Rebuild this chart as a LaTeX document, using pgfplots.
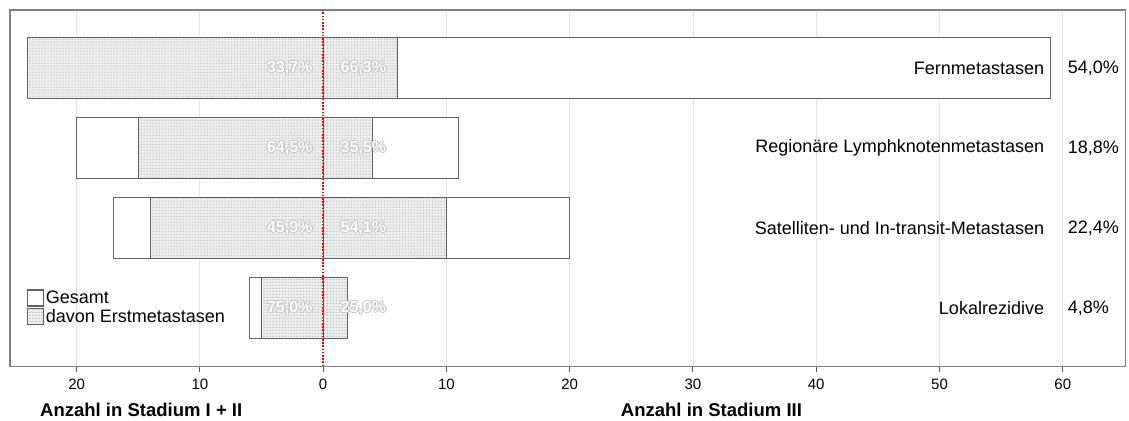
\documentclass[border=0pt]{standalone}
\usepackage{pgfplots}
\pgfplotsset{compat=1.18}
\usetikzlibrary{patterns}
\usepackage{fontspec}
\setmainfont{Liberation Sans}

\tikzset{
  hl/.style={text=black!22, inner sep=0pt, font=\bfseries\fontsize{16}{18}\selectfont},
  hw/.style={text=white, inner sep=0pt, font=\bfseries\fontsize{16}{18}\selectfont},
}
\newcommand\halo[4]{%
  \node[hl,anchor=#3,xshift=1.3pt] at (axis cs:#1,#2) {#4};
  \node[hl,anchor=#3,xshift=-1.3pt] at (axis cs:#1,#2) {#4};
  \node[hl,anchor=#3,yshift=1.3pt] at (axis cs:#1,#2) {#4};
  \node[hl,anchor=#3,yshift=-1.3pt] at (axis cs:#1,#2) {#4};
  \node[hw,anchor=#3] at (axis cs:#1,#2) {#4};
}

\begin{document}
\begin{tikzpicture}
\begin{axis}[
  scale only axis, width=1115pt, height=356pt,
  xmin=-25.4, xmax=65.1, ymin=-0.725, ymax=3.725,
  xbar, bar width=0.7625, bar shift=0pt,
  ytick=\empty,
  xtick={-20,-10,0,10,20,30,40,50,60},
  xticklabels={20,10,0,10,20,30,40,50,60},
  xtick pos=bottom, tick align=outside, major tick length=6pt,
  xmajorgrids, grid style={black!10, line width=0.8pt},
  axis line style={black!50, line width=1.2pt},
  tick style={black!65, line width=1pt},
  ticklabel style={font=\fontsize{15}{18}\selectfont, yshift=-3pt},
  /pgf/number format/assume math mode=true,
  clip=false,
  legend style={at={(0.0152,0.216)}, anchor=north west, draw=none, fill=none,
    inner sep=0pt, row sep=1pt, font=\fontsize{18}{20}\selectfont,
    nodes={inner sep=1.5pt}},
  legend cell align=left,
  legend image code/.code={\draw[#1] (0pt,-8pt) rectangle (16pt,8pt);},
  tot/.style={draw=black!62, line width=1.1pt, fill=white},
  sh/.style={draw=black!62, line width=1.1pt, fill=black!7,
    postaction={pattern=dots, pattern color=black!45}},
]
\addlegendimage{draw=black!62, line width=1.1pt, fill=white}
\addlegendentry{Gesamt}
\addlegendimage{draw=black!62, line width=1.1pt, fill=black!7, postaction={pattern=dots, pattern color=black!45}}
\addlegendentry{davon Erstmetastasen}

% Gesamt, Stadium III (right)
\addplot[tot, forget plot] coordinates {(59,3) (11,2) (20,1) (2,0)};
% Gesamt, Stadium I+II (left)
\addplot[tot, forget plot] coordinates {(-24,3) (-20,2) (-17,1) (-6,0)};
% Erstmetastasen, Stadium III
\addplot[sh, forget plot] coordinates {(6,3) (4,2) (10,1) (2,0)};
% Erstmetastasen, Stadium I+II
\addplot[sh, forget plot] coordinates {(-24,3) (-15,2) (-14,1) (-5,0)};

\draw[red, line width=2pt, dash pattern=on 1.6pt off 1.6pt] (axis cs:0,-0.725) -- (axis cs:0,3.725);

\halo{-0.85}{3}{east}{33,7\%}
\halo{1.4}{3}{west}{66,3\%}
\halo{-0.85}{2}{east}{64,5\%}
\halo{1.4}{2}{west}{35,5\%}
\halo{-0.85}{1}{east}{45,9\%}
\halo{1.4}{1}{west}{54,1\%}
\halo{-0.85}{0}{east}{75,0\%}
\halo{1.4}{0}{west}{25,0\%}

\begin{scope}[every node/.style={font=\fontsize{18}{20}\selectfont, inner sep=0pt}]
\node[anchor=east] at (axis cs:58.5,3) {Fernmetastasen};
\node[anchor=east] at (axis cs:58.5,2) {Regionäre Lymphknotenmetastasen};
\node[anchor=east] at (axis cs:58.5,1) {Satelliten- und In-transit-Metastasen};
\node[anchor=east] at (axis cs:58.5,0) {Lokalrezidive};
\node[anchor=west] at (axis cs:60.4,3) {54,0\%};
\node[anchor=west] at (axis cs:60.4,2) {18,8\%};
\node[anchor=west] at (axis cs:60.4,1) {22,4\%};
\node[anchor=west] at (axis cs:60.4,0) {4,8\%};
\end{scope}

\node[font=\bfseries\fontsize{18.5}{20}\selectfont] at (axis cs:-14.76,-1.275) {Anzahl in Stadium I + II};
\node[font=\bfseries\fontsize{18.5}{20}\selectfont] at (axis cs:31.5,-1.275) {Anzahl in Stadium III};

\path (rel axis cs:-0.009,1.028) rectangle (rel axis cs:1.003,-0.149);
\end{axis}
\end{tikzpicture}
\end{document}
